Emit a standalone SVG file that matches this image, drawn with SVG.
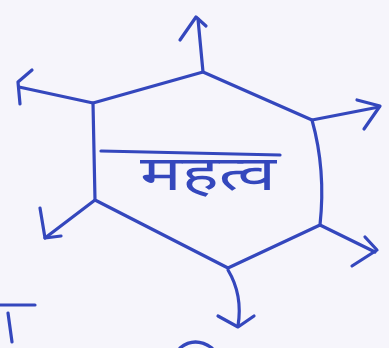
<svg xmlns="http://www.w3.org/2000/svg" width="389" height="348" viewBox="0 0 389 348">
<style>
.ink{fill:none;stroke:#3447bd;stroke-width:3.2;stroke-linecap:round;stroke-linejoin:round}
.lbl{font-family:"Noto Sans Devanagari","Noto Sans","Lohit Devanagari",sans-serif;font-size:48px;fill:#3447bd}
</style>
<rect width="389" height="348" fill="#f6f5fb"/>
<g id="hexagon">
<path class="ink" d="M203,72 L93,103 L95,200 L228,268 L320,225 Q326,170 312,120 Z"/>
<path class="ink" d="M101,151 L280,155"/>
<text class="lbl" x="140" y="190" textLength="136" lengthAdjust="spacingAndGlyphs">महत्व</text>
</g>
<g id="connectors">
<path class="ink" d="M203,72 L198,19"/>
<path class="ink" d="M180,40 L196,17 L206,26"/>
<path class="ink" d="M93,103 L19,87"/>
<path class="ink" d="M32,70 L18,82 L20,104"/>
<path class="ink" d="M312,120 L379,107"/>
<path class="ink" d="M357,100 L380,106 L364,129"/>
<path class="ink" d="M95,200 L45,238"/>
<path class="ink" d="M40,208 L45,238 L61,236"/>
<path class="ink" d="M320,225 L375,252"/>
<path class="ink" d="M365,237 L377,250 L352,266"/>
<path class="ink" d="M228,270 Q243,295 238,326"/>
<path class="ink" d="M218,316 L238,327 L254,316"/>
</g>
<g id="fragments">
<path class="ink" d="M0,305 L35,305"/>
<path class="ink" d="M8,313 L12,342"/>
<path class="ink" d="M180,348 Q195,336 212,348"/>
</g>
</svg>
